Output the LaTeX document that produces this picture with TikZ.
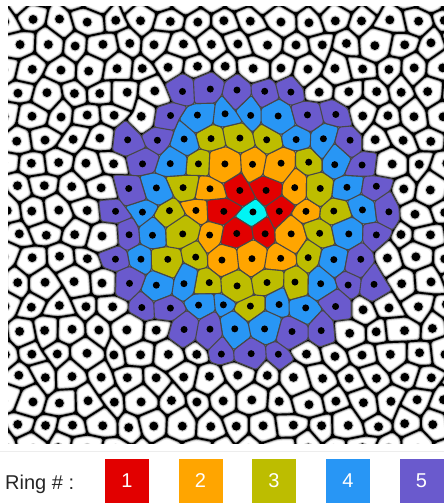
\documentclass[tikz,border=0pt]{standalone}
\usepackage{fontspec}
\setmainfont{Liberation Sans}
\definecolor{rZ}{RGB}{0,245,245}
\definecolor{rA}{RGB}{226,0,0}
\definecolor{rB}{RGB}{255,165,0}
\definecolor{rC}{RGB}{189,189,0}
\definecolor{rD}{RGB}{40,150,245}
\definecolor{rE}{RGB}{106,90,205}
\def\W{27.5}
\def\Sp{4.8}
\newcommand\cellgeom[2]{%
 \edef\cI{\the\numexpr#1\relax}\edef\cJ{\the\numexpr#2\relax}%
 \edef\cIm{\the\numexpr#1-1\relax}\edef\cJm{\the\numexpr#2-1\relax}%
 \pgfmathsetmacro\Py{211+\W*0.8660254*\cJ}%
 \pgfmathsetmacro\Ax{\Px+0.5*\W+\csname Ux\cI:\cJ\endcsname}%
 \pgfmathsetmacro\Ay{\Py+0.288675*\W+\csname Uy\cI:\cJ\endcsname}%
 \pgfmathsetmacro\Bx{\Px+\csname Dx\cIm:\cJ\endcsname}%
 \pgfmathsetmacro\By{\Py+0.57735*\W+\csname Dy\cIm:\cJ\endcsname}%
 \pgfmathsetmacro\Cx{\Px-0.5*\W+\csname Ux\cIm:\cJ\endcsname}%
 \pgfmathsetmacro\Cy{\Py+0.288675*\W+\csname Uy\cIm:\cJ\endcsname}%
 \pgfmathsetmacro\Dx{\Px-0.5*\W+\csname Dx\cIm:\cJm\endcsname}%
 \pgfmathsetmacro\Dy{\Py-0.288675*\W+\csname Dy\cIm:\cJm\endcsname}%
 \pgfmathsetmacro\Ex{\Px+\csname Ux\cI:\cJm\endcsname}%
 \pgfmathsetmacro\Ey{\Py-0.57735*\W+\csname Uy\cI:\cJm\endcsname}%
 \pgfmathsetmacro\Fx{\Px+0.5*\W+\csname Dx\cI:\cJm\endcsname}%
 \pgfmathsetmacro\Fy{\Py-0.288675*\W+\csname Dy\cI:\cJm\endcsname}%
 \pgfmathsetmacro\Mx{(\Ax+\Bx+\Cx+\Dx+\Ex+\Fx)/6}%
 \pgfmathsetmacro\My{(\Ay+\By+\Cy+\Dy+\Ey+\Fy)/6}%
}
\tikzset{
  ringcell/.style={fill=#1, draw=black!72, line width=1.1, rounded corners=2.5, line join=round},
  legbox/.style={fill=#1, minimum width=44, minimum height=45, inner sep=0, text=white,
    font=\fontsize{20}{24}\selectfont},
}
\begin{document}
\begin{tikzpicture}[x=1pt,y=-1pt]
\useasboundingbox (0,0) rectangle (444,503);
\fill[white] (0,0) rectangle (444,503);
\pgfmathsetseed{20240}
\foreach \va in {-17,...,15}{\foreach \vb in {-11,...,11}{%
  \pgfmathsetmacro\tx{rand*\Sp}\pgfmathsetmacro\ty{rand*\Sp}%
  \expandafter\xdef\csname Ux\va:\vb\endcsname{(\tx)}%
  \expandafter\xdef\csname Uy\va:\vb\endcsname{(\ty)}%
  \pgfmathsetmacro\tx{rand*\Sp}\pgfmathsetmacro\ty{rand*\Sp}%
  \expandafter\xdef\csname Dx\va:\vb\endcsname{(\tx)}%
  \expandafter\xdef\csname Dy\va:\vb\endcsname{(\ty)}%
}}
\gdef\wpath{}\gdef\wdotlist{}\gdef\whalolist{}\gdef\cdotlist{}
\foreach \k in {0,...,5}{\expandafter\gdef\csname cp\k\endcsname{}}
\foreach \j in {-9,...,10}{\foreach \i in {-15,...,13}{%
  \pgfmathsetmacro\Px{252+\W*(\i+0.5*\j)}%
  \ifdim\Px pt>-18pt\relax\ifdim\Px pt<464pt\relax
    \cellgeom{\i}{\j}%
    \pgfmathtruncatemacro\dd{round(veclen(\Mx-248,\My-217)/26)}%
    \edef\thecell{(\Ax,\Ay)--(\Bx,\By)--(\Cx,\Cy)--(\Dx,\Dy)--(\Ex,\Ey)--(\Fx,\Fy)--cycle}%
    \ifnum\dd>5\relax
      \xdef\wpath{\wpath\thecell}%
      \xdef\whalolist{\whalolist(\Mx,\My)circle[radius=5.6]}%
      \xdef\wdotlist{\wdotlist(\Mx,\My)circle[radius=4.4]}%
    \else
      \expandafter\xdef\csname cp\dd\endcsname{\csname cp\dd\endcsname\thecell}%
      \xdef\cdotlist{\cdotlist(\Mx,\My)circle[radius=3.5]}%
    \fi
  \fi\fi
}}
\begin{scope}
\clip (8,7) rectangle (444,443);
\draw[black!10, line width=5.5, rounded corners=4, line join=round] \wpath;
\draw[black!40, line width=3.5, rounded corners=3.5, line join=round] \wpath;
\draw[black, line width=1.9, rounded corners=3, line join=round] \wpath;
\fill[black!20] \whalolist;
\fill[black] \wdotlist;
\path[ringcell=rZ] \csname cp0\endcsname;
\path[ringcell=rA] \csname cp1\endcsname;
\path[ringcell=rB] \csname cp2\endcsname;
\path[ringcell=rC] \csname cp3\endcsname;
\path[ringcell=rD] \csname cp4\endcsname;
\path[ringcell=rE] \csname cp5\endcsname;
\fill[black] \cdotlist;
\end{scope}
\draw[black!7, line width=1] (0,451) -- (444,451);
\node[anchor=base west, inner sep=0, text=black!85, font=\fontsize{20}{24}\selectfont] (lab) at (5,489) {Ring \# :};
\node[legbox=rA] (k1) at (127,481) {1};
\node[legbox=rB] (k2) at (200.5,481) {2};
\node[legbox=rC] (k3) at (274,481) {3};
\node[legbox=rD] (k4) at (348,481) {4};
\node[legbox=rE] (k5) at (421.5,481) {5};
\end{tikzpicture}
\end{document}
